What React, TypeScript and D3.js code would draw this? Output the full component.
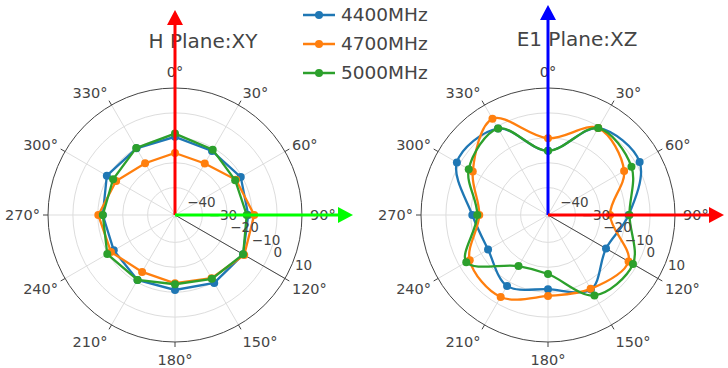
import React from 'react';
import * as d3 from 'd3';

const ANGLES = [0, 30, 60, 90, 120, 150, 180, 210, 240, 270, 300, 330];
const SERIES = ['4400MHz', '4700MHz', '5000MHz'];
const COLORS = ['#1f77b4', '#ff7f0e', '#2ca02c'];

// H Plane:XY
const H_4400 = [-9.6, -11.3, -10.5, -11.6, -9.4, -9.5, -10.9, -10.9, -12.6, -12.0, -9.4, -10.1];
const H_4700 = [-16.1, -17.1, -12.7, -9.2, -8.9, -11.7, -13.6, -14.6, -11.3, -10.2, -13.7, -17.0];
const H_5000 = [-8.3, -10.7, -13.1, -12.2, -9.4, -11.4, -13.2, -10.9, -9.6, -12.0, -12.3, -9.9];

// E1 Plane:XZ
const E_4400 = [-15.2, -0.7, 1.5, -8.6, -14.1, -6.5, -11.2, -8.1, -13.2, -10.6, 1.25, -0.9];
const E_4700 = [-10.2, -0.7, -5.7, -16.1, -3.65, -6.75, -8.5, -3.0, -4.7, -13.4, -6.1, 3.6];
const E_5000 = [-15.2, -0.7, -2.3, -8.3, -1.6, -3.7, -17.3, -17.3, -3.1, -12.6, -4.25, -0.9];

const R_TICKS = [-40, -30, -20, -10, 0, 10];
const R_DOMAIN = [-41, 10];
const RADIAL_AXIS_ANGLE = 120;

const R = 127;
const FONT = 'DejaVu Sans, Verdana, sans-serif';
const TXT = '#444';

const rScale = d3.scaleLinear().domain(R_DOMAIN).range([0, R]);

function pt(cx: number, cy: number, deg: number, r: number): [number, number] {
  const a = (deg * Math.PI) / 180;
  return [cx + r * Math.sin(a), cy - r * Math.cos(a)];
}

function fmt(v: number) {
  return v < 0 ? '\u2212' + Math.abs(v) : String(v);
}

function Polar(props: { cx: number; cy: number; title: string; tx: number; ty: number; data: number[][]; smooth: boolean }) {
  const { cx, cy, title, tx, ty, data, smooth } = props;
  const line = d3
    .line<[number, number]>()
    .x((d) => d[0])
    .y((d) => d[1])
    .curve(smooth ? d3.curveCatmullRomClosed.alpha(0.5) : d3.curveLinearClosed);
  const fs = 14.5;
  const pad = 8;
  return (
    <g>
      <text x={tx} y={ty} textAnchor="middle" fontSize={20} fill={TXT} fontFamily={FONT}>
        {title}
      </text>
      {/* grid circles */}
      {R_TICKS.filter((t) => t < R_DOMAIN[1]).map((t) => (
        <circle key={'c' + t} cx={cx} cy={cy} r={rScale(t)} fill="none" stroke="#ddd" strokeWidth={1} />
      ))}
      {/* spokes */}
      {ANGLES.map((a) => {
        const [x, y] = pt(cx, cy, a, R);
        return <line key={'s' + a} x1={cx} y1={cy} x2={x} y2={y} stroke="#ddd" strokeWidth={1} />;
      })}
      {/* outer circle */}
      <circle cx={cx} cy={cy} r={R} fill="none" stroke={TXT} strokeWidth={1} />
      {/* angular ticks and labels */}
      {ANGLES.map((a) => {
        const [x1, y1] = pt(cx, cy, a, R);
        const [x2, y2] = pt(cx, cy, a, R + 5);
        const label = a + '\u00b0';
        const rad = ((90 - a) * Math.PI) / 180;
        const cos = Math.cos(rad);
        const sin = Math.sin(rad);
        const ff = sin > 0 ? 0.2 : 1;
        const lx = cx + R * cos + cos * pad;
        const ly = cy - R * sin - sin * (pad + fs * ff) + Math.abs(cos) * fs * 0.35;
        const anchor = Math.abs(cos) < 0.1 ? 'middle' : cos > 0 ? 'start' : 'end';
        return (
          <g key={'a' + a}>
            <line x1={x1} y1={y1} x2={x2} y2={y2} stroke={TXT} strokeWidth={1} />
            <text x={lx} y={ly} textAnchor={anchor} fontSize={fs} fill={TXT} fontFamily={FONT}>
              {label}
            </text>
          </g>
        );
      })}
      {/* radial axis line */}
      {(() => {
        const [x, y] = pt(cx, cy, RADIAL_AXIS_ANGLE, R);
        return <line x1={cx} y1={cy} x2={x} y2={y} stroke={TXT} strokeWidth={1} />;
      })()}
      {/* traces */}
      {data.map((vals, i) => {
        const pts = vals.map((v, k) => pt(cx, cy, ANGLES[k], rScale(v)));
        return (
          <g key={'t' + i}>
            <path d={line(pts) || ''} fill="none" stroke={COLORS[i]} strokeWidth={2.3} />
            {pts.map((p, k) => (
              <circle key={k} cx={p[0]} cy={p[1]} r={4} fill={COLORS[i]} />
            ))}
          </g>
        );
      })}
      {/* radial tick labels */}
      {R_TICKS.map((t) => {
        const [x, y] = pt(cx, cy, RADIAL_AXIS_ANGLE, rScale(t));
        return (
          <text key={'rt' + t} x={x + 10} y={y - 9} fontSize={13.5} fill={TXT} fontFamily={FONT}>
            {fmt(t)}
          </text>
        );
      })}
    </g>
  );
}

function Arrow(props: { x1: number; y1: number; x2: number; y2: number; color: string }) {
  const { x1, y1, x2, y2, color } = props;
  const len = Math.hypot(x2 - x1, y2 - y1);
  const ux = (x2 - x1) / len;
  const uy = (y2 - y1) / len;
  const hl = 15;
  const hw = 8;
  const bx = x2 - ux * hl;
  const by = y2 - uy * hl;
  const pts = [
    [x2, y2],
    [bx - uy * hw, by + ux * hw],
    [bx + uy * hw, by - ux * hw],
  ]
    .map((p) => p.join(','))
    .join(' ');
  return (
    <g>
      <line x1={x1} y1={y1} x2={bx} y2={by} stroke={color} strokeWidth={3} />
      <polygon points={pts} fill={color} />
    </g>
  );
}

export default function App() {
  const L = { cx: 175, cy: 215 };
  const Rt = { cx: 548, cy: 215 };
  return (
    <svg
      width={728}
      height={368}
      style={{ position: 'absolute', left: 0, top: 0, background: '#fff' }}
      fontFamily={FONT}
    >
      <rect width={728} height={368} fill="#fff" />
      <Polar cx={L.cx} cy={L.cy} title="H Plane:XY" tx={203} ty={48} data={[H_4400, H_4700, H_5000]} smooth={false} />
      <Polar cx={Rt.cx} cy={Rt.cy} title="E1 Plane:XZ" tx={577} ty={46} data={[E_4400, E_4700, E_5000]} smooth={true} />
      <Arrow x1={L.cx} y1={L.cy} x2={L.cx} y2={10} color="#ff0000" />
      <Arrow x1={L.cx} y1={L.cy} x2={353} y2={L.cy} color="#00ff00" />
      <Arrow x1={Rt.cx} y1={Rt.cy} x2={Rt.cx} y2={5} color="#0000ff" />
      <Arrow x1={Rt.cx} y1={Rt.cy} x2={724} y2={Rt.cy} color="#ff0000" />
      {/* legend */}
      {SERIES.map((s, i) => {
        const y = 15 + i * 29;
        return (
          <g key={s}>
            <line x1={303} y1={y} x2={335} y2={y} stroke={COLORS[i]} strokeWidth={2.5} />
            <circle cx={319} cy={y} r={4} fill={COLORS[i]} />
            <text x={341} y={y} dy="0.35em" fontSize={18.5} fill={TXT} fontFamily={FONT}>
              {s}
            </text>
          </g>
        );
      })}
    </svg>
  );
}
